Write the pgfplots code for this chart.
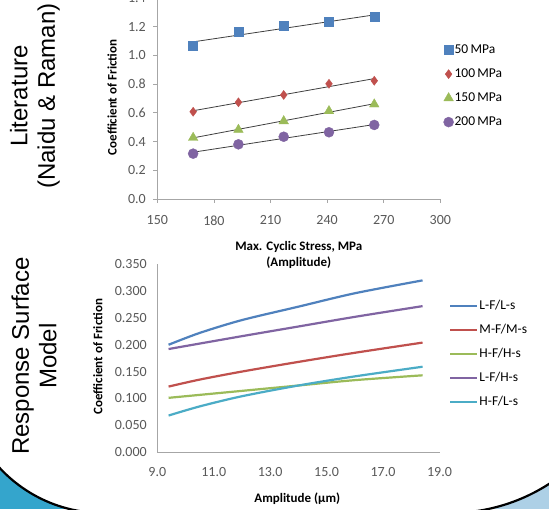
\documentclass[border=0pt]{standalone}
\usepackage{pgfplots}
\pgfplotsset{compat=1.18}
\usepackage{fontspec}
\setmainfont{Carlito}
\newfontfamily\arialf{Liberation Sans}

\definecolor{xlblue}{HTML}{4F81BD}
\definecolor{xlred}{HTML}{C0504D}
\definecolor{xlgreen}{HTML}{9BBB59}
\definecolor{xlpurple}{HTML}{8064A2}
\definecolor{xlcyan}{HTML}{4BACC6}
\definecolor{axisgray}{HTML}{A6A6A6}
\definecolor{ticktext}{HTML}{595959}
\definecolor{slideteal}{HTML}{34A5CC}
\definecolor{slidelight}{HTML}{ADD0E6}

\pgfplotsset{
  excel/.style={
    scale only axis,
    axis lines=left,
    axis line style={-, draw=axisgray, line width=0.8pt},
    tick style={axisgray, line width=0.8pt},
    tick align=outside,
    /pgf/number format/assume math mode=true,
    tick label style={font=\fontsize{14}{16}\selectfont, text=ticktext},
    label style={font=\fontsize{13}{16}\selectfont\bfseries, align=center},
    legend cell align=left,
    legend style={draw=none, fill=none, font=\fontsize{13.5}{15}\selectfont,
      anchor=north west, inner sep=0pt, row sep=10pt, column sep=0pt,
      nodes={inner sep=1pt, text height=9pt, text depth=3pt}},
    clip=false,
  }
}

\begin{document}
\begin{tikzpicture}[x=1pt, y=1pt]
\path[use as bounding box] (0,0) rectangle (549,509);

% slide background and rounded frame
\fill[slideteal] (0,0) rectangle (274,200);
\fill[slidelight] (274,0) rectangle (549,200);
\filldraw[fill=white, draw=black, line width=2.2pt]
  (-38,620) -- (-38,137) arc[start angle=180, end angle=270, radius=141]
  -- (450,-4) arc[start angle=270, end angle=360, radius=183]
  -- (633,620) -- cycle;

% side titles
\node[rotate=90, align=center, font=\arialf\fontsize{24}{27.5}\selectfont]
  at (35,413) {Literature\\(Naidu \& Raman)};
\node[rotate=90, align=center, font=\arialf\fontsize{24}{27.5}\selectfont]
  at (34,153) {Response Surface\\Model};

% top chart: literature data
\begin{axis}[excel,
  at={(157.3pt,310pt)}, anchor=south west,
  width=283pt, height=200.9pt,
  xmin=150, xmax=300, ymin=0, ymax=1.4,
  xtick={150,180,210,240,270,300},
  ytick={0,0.2,0.4,0.6,0.8,1.0,1.2,1.4},
  yticklabel style={xshift=-4pt, /pgf/number format/.cd, fixed, fixed zerofill, precision=1},
  xticklabel style={yshift=-9pt},
  major tick length=4pt,
  xlabel={Max. Cyclic Stress, MPa\\(Amplitude)},
  ylabel={Coefficient of Friction},
  xlabel style={at={(axis description cs:0.5,-0.279)}, anchor=center},
  ylabel style={at={(axis description cs:-0.160,0.505)}, anchor=center},
  legend style={at={(1.011,0.777)}},
  legend image code/.code={\draw[mark repeat=2, mark phase=2, #1]
    plot coordinates {(0pt,0pt) (5.5pt,0pt) (11pt,0pt)};},
]
\addplot[only marks, mark=square*, mark size=4.5pt, color=xlblue]
  coordinates {(169,1.07) (193,1.165) (217,1.205) (241,1.238) (265,1.268)};
\addlegendentry{50\,MPa}
\addplot[only marks, mark=diamond*, mark size=4.5pt, color=xlred]
  coordinates {(169,0.608) (193,0.674) (217,0.725) (241,0.803) (265,0.824)};
\addlegendentry{100\,MPa}
\addplot[only marks, mark=triangle*, mark size=5.5pt, color=xlgreen]
  coordinates {(169,0.427) (193,0.483) (217,0.543) (241,0.613) (265,0.660)};
\addlegendentry{150\,MPa}
\addplot[only marks, mark=*, mark size=5pt, color=xlpurple]
  coordinates {(169,0.316) (193,0.381) (217,0.434) (241,0.465) (265,0.516)};
\addlegendentry{200\,MPa}

% linear trend lines
\addplot[black!75, line width=0.8pt, forget plot] coordinates {(169,1.095) (265,1.283)};
\addplot[black!75, line width=0.8pt, forget plot] coordinates {(169,0.615) (265,0.839)};
\addplot[black!75, line width=0.8pt, forget plot] coordinates {(169,0.426) (265,0.664)};
\addplot[black!75, line width=0.8pt, forget plot] coordinates {(169,0.326) (265,0.519)};
\end{axis}

% bottom chart: response surface model
\begin{axis}[excel,
  at={(157.3pt,57pt)}, anchor=south west,
  width=282.2pt, height=187.7pt,
  xmin=9, xmax=19, ymin=0, ymax=0.35,
  xtick={9,11,13,15,17,19},
  ytick={0,0.05,0.1,0.15,0.2,0.25,0.3,0.35},
  xticklabel style={yshift=-12pt, /pgf/number format/.cd, fixed, fixed zerofill, precision=1},
  yticklabel style={xshift=-7pt, /pgf/number format/.cd, fixed, fixed zerofill, precision=3},
  major tick length=0pt,
  xlabel={Amplitude (µm)},
  ylabel={Coefficient of Friction},
  xlabel style={at={(axis description cs:0.496,-0.247)}, anchor=center},
  ylabel style={at={(axis description cs:-0.211,0.508)}, anchor=center},
  legend style={at={(1.034,0.815)}},
  legend image code/.code={\draw[#1] (0pt,0pt) -- (27pt,0pt);},
  every axis plot/.append style={line width=2.2pt, smooth},
]
\addplot[xlblue] coordinates
  {(9.4,0.200) (10.5,0.222) (12.0,0.246) (14.0,0.271) (16.0,0.296) (18.4,0.320)};
\addlegendentry{L-F/L-s}
\addplot[xlred] coordinates
  {(9.4,0.122) (10.5,0.135) (12.0,0.150) (14.0,0.168) (16.0,0.185) (18.4,0.204)};
\addlegendentry{M-F/M-s}
\addplot[xlgreen] coordinates
  {(9.4,0.101) (12.0,0.114) (14.0,0.124) (16.0,0.134) (18.4,0.143)};
\addlegendentry{H-F/H-s}
\addplot[xlpurple] coordinates
  {(9.4,0.192) (12.0,0.216) (14.0,0.234) (16.0,0.252) (18.4,0.272)};
\addlegendentry{L-F/H-s}
\addplot[xlcyan] coordinates
  {(9.4,0.068) (10.5,0.085) (12.0,0.104) (14.0,0.124) (16.0,0.141) (18.4,0.159)};
\addlegendentry{H-F/L-s}
\end{axis}
\end{tikzpicture}
\end{document}
